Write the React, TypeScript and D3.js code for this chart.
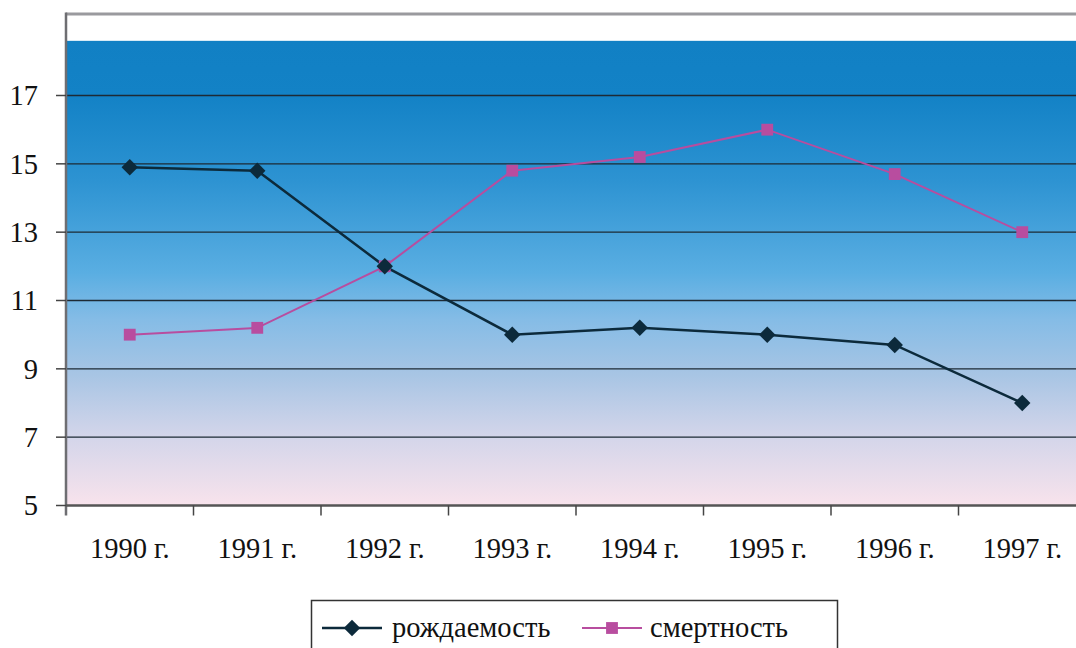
import { scaleBand, scaleLinear, line, symbol, symbolSquare } from 'd3'

const years = ['1990 г.', '1991 г.', '1992 г.', '1993 г.', '1994 г.', '1995 г.', '1996 г.', '1997 г.']
const birthRate = [14.9, 14.8, 12.0, 10.0, 10.2, 10.0, 9.7, 8.0]
const deathRate = [10.0, 10.2, 12.0, 14.8, 15.2, 16.0, 14.7, 13.0]
const yTicks = [5, 7, 9, 11, 13, 15, 17]

const width = 1076
const height = 648
const plot = { left: 66, right: 1086, top: 14, bottom: 505.5 }

const birthColor = '#0c2a3b'
const deathColor = '#b84d9f'
const serif = '"Liberation Serif", Tinos, "Times New Roman", serif'

const gradientStops = [
  { offset: 0, color: '#1180c4' },
  { offset: 0.12, color: '#1382c6' },
  { offset: 0.3, color: '#2d93d2' },
  { offset: 0.5, color: '#5aaee2' },
  { offset: 0.6, color: '#85bce6' },
  { offset: 0.72, color: '#a8c5e4' },
  { offset: 0.85, color: '#d3d5ea' },
  { offset: 1, color: '#f8e3ec' },
]

function Label(props: { x: number; y: number; anchor?: string; dy?: string; children: React.ReactNode }) {
  return (
    <text
      x={props.x}
      y={props.y}
      dy={props.dy}
      textAnchor={props.anchor ?? 'start'}
      fontFamily={serif}
      fontSize={28.5}
      style={{ fontFamily: serif }}
      fill="#111"
    >
      {props.children}
    </text>
  )
}

export default function App() {
  const xScale = scaleBand<string>().domain(years).range([plot.left, plot.right])
  const yScale = scaleLinear().domain([5, 17]).range([plot.bottom, 95.5])
  const cx = (i: number) => (xScale(years[i]) ?? 0) + xScale.bandwidth() / 2

  const path = line<number>()
    .x((_, i) => cx(i))
    .y((d) => yScale(d))

  // diamond = square turned 45 degrees
  const diamond = symbol().type(symbolSquare).size(135)() ?? ''
  const square = symbol().type(symbolSquare).size(140)() ?? ''
  const gradTop = yScale(18.6)

  return (
    <svg
      width={width}
      height={height}
      fontFamily={serif}
      style={{ position: 'absolute', left: 0, top: 0, background: '#fff', fontFamily: serif }}
    >
      <defs>
        <linearGradient id="bg" x1="0" y1="0" x2="0" y2="1">
          {gradientStops.map((s) => (
            <stop key={s.offset} offset={s.offset} stopColor={s.color} />
          ))}
        </linearGradient>
      </defs>

      <rect
        x={plot.left}
        y={gradTop}
        width={plot.right - plot.left}
        height={plot.bottom - gradTop}
        fill="url(#bg)"
      />

      {/* frame */}
      <line x1={plot.left} x2={width} y1={plot.top} y2={plot.top} stroke="#9a9a9e" strokeWidth={3} />

      {/* grid lines */}
      {yTicks.slice(1).map((t) => (
        <line
          key={t}
          x1={plot.left}
          x2={plot.right}
          y1={yScale(t)}
          y2={yScale(t)}
          stroke="#1d2a35"
          strokeWidth={1.4}
        />
      ))}

      {/* axes */}
      <line x1={plot.left} x2={plot.left} y1={plot.top - 1.5} y2={plot.bottom + 10} stroke="#6e6e72" strokeWidth={2.5} />
      <line x1={plot.left} x2={plot.right} y1={plot.bottom} y2={plot.bottom} stroke="#555" strokeWidth={2.5} />

      {yTicks.map((t) => (
        <g key={t}>
          <line x1={56} x2={plot.left} y1={yScale(t)} y2={yScale(t)} stroke="#444" strokeWidth={1.5} />
          <Label x={38} y={yScale(t)} dy="0.35em" anchor="end">
            {t}
          </Label>
        </g>
      ))}

      {years.map((y, i) => (
        <g key={y}>
          {i > 0 ? (
            <line
              x1={xScale(y)}
              x2={xScale(y)}
              y1={plot.bottom}
              y2={plot.bottom + 10}
              stroke="#444"
              strokeWidth={1.5}
            />
          ) : null}
          <Label x={cx(i)} y={558} anchor="middle">
            {y}
          </Label>
        </g>
      ))}

      {/* series */}
      <path d={path(deathRate) ?? ''} fill="none" stroke={deathColor} strokeWidth={2} />
      <path d={path(birthRate) ?? ''} fill="none" stroke={birthColor} strokeWidth={2.5} />
      {deathRate.map((d, i) => (
        <path key={`d${i}`} d={square} transform={`translate(${cx(i)}, ${yScale(d)})`} fill={deathColor} />
      ))}
      {birthRate.map((d, i) => (
        <path
          key={`b${i}`}
          d={diamond}
          transform={`translate(${cx(i)}, ${yScale(d)}) rotate(45)`}
          fill={birthColor}
        />
      ))}

      {/* legend */}
      <rect x={311.5} y={600.5} width={526} height={60} fill="#fff" stroke="#333" strokeWidth={1.5} />
      <line x1={322} x2={382} y1={628} y2={628} stroke={birthColor} strokeWidth={2.5} />
      <path d={diamond} transform="translate(352, 628) rotate(45)" fill={birthColor} />
      <Label x={392} y={637}>рождаемость</Label>
      <line x1={582} x2={642} y1={628} y2={628} stroke={deathColor} strokeWidth={2} />
      <path d={square} transform="translate(612, 628)" fill={deathColor} />
      <Label x={650} y={637}>смертность</Label>
    </svg>
  )
}
